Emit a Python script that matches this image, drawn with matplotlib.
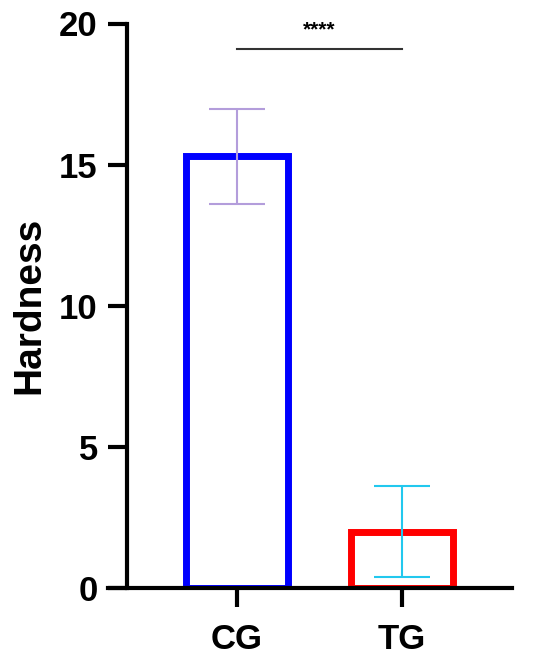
import numpy as np
import matplotlib
matplotlib.use("Agg")
import matplotlib.pyplot as plt

plt.rcParams['font.family'] = ['Liberation Sans', 'DejaVu Sans']
plt.rcParams['font.weight'] = 'bold'

groups = ['CG', 'TG']
means = [15.3, 2.0]
errs = [1.68, 1.6]
edge_colors = ['#0000FF', '#FF0000']
err_colors = ['#B39DDB', '#22C8EE']
sig_label = '****'
sig_y = 19.08
yticks = [0, 5, 10, 15, 20]

W, H = 550, 663
fig = plt.figure(figsize=(W / 100, H / 100), dpi=100)
# axes box in pixels: x 108..512, y 23.5..588
ax = fig.add_axes([108 / W, (H - 588) / H, (512 - 108) / W, (588 - 23.5) / H])

x = np.arange(len(groups))
ax.bar(x, means, width=0.62, facecolor='none', edgecolor=edge_colors,
       linewidth=5, zorder=2)
for i in range(len(groups)):
    ax.errorbar(x[i], means[i], yerr=errs[i], fmt='none', ecolor=err_colors[i],
                elinewidth=1.5, capsize=20.5, capthick=1.5, zorder=3)

# significance bracket
ax.plot([x[0], x[1]], [sig_y, sig_y], color='#333333', lw=1.5, zorder=3)
ax.text((x[0] + x[1]) / 2, sig_y + 0.7, sig_label, ha='center', va='center',
        fontsize=15, fontweight='bold')

ax.set_xlim(-0.782, 1.667)
ax.set_ylim(0, 20)
ax.set_yticks(yticks)
ax.set_xticks(x)
ax.set_xticklabels(groups)

for s in ['top', 'right']:
    ax.spines[s].set_visible(False)
ax.spines['left'].set_position(('axes', 19 / 404))
ax.spines['left'].set_linewidth(3)
ax.spines['bottom'].set_linewidth(3)
ax.spines['left'].set_bounds(0, 20)

ax.tick_params(axis='both', width=3, length=14, labelsize=25, direction='out')
ax.tick_params(axis='y', pad=7)
ax.tick_params(axis='x', pad=11)
ax.set_ylabel('Hardness', fontsize=28, fontweight='bold')
ax.yaxis.set_label_coords(-0.15, 0.5)

fig.savefig('out.png', dpi=100)
